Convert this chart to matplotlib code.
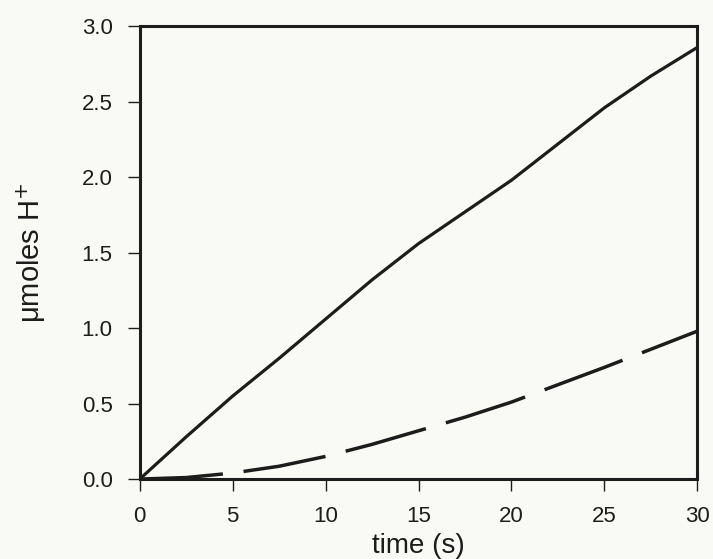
import matplotlib
matplotlib.use("Agg")
import matplotlib.pyplot as plt

time_s = [0, 2.5, 5, 7.5, 10, 12.5, 15, 17.5, 20, 22.5, 25, 27.5, 30]
solid_umol = [0, 0.28, 0.55, 0.80, 1.06, 1.32, 1.56, 1.77, 1.98, 2.22, 2.46, 2.67, 2.86]
dashed_umol = [0, 0.01, 0.04, 0.085, 0.15, 0.23, 0.32, 0.41, 0.51, 0.625, 0.74, 0.86, 0.98]

xticks = [0, 5, 10, 15, 20, 25, 30]
yticks = [0.0, 0.5, 1.0, 1.5, 2.0, 2.5, 3.0]

plt.rcParams['font.family'] = ['Liberation Sans', 'DejaVu Sans']
bg = '#f9f9f5'
ink = '#1c1c1c'

fig = plt.figure(figsize=(7.13, 5.59), dpi=100, facecolor=bg)
ax = fig.add_axes([0.196, 0.143, 0.782, 0.810], facecolor=bg)

ax.plot(time_s, solid_umol, color=ink, lw=2.3, solid_capstyle='butt')
ax.plot(time_s, dashed_umol, color=ink, lw=2.5, dashes=(24, 6), dash_capstyle='butt')

ax.set_xlim(0, 30)
ax.set_ylim(0, 3.0)
ax.set_xticks(xticks)
ax.set_xticklabels([str(v) for v in xticks])
ax.set_yticks(yticks)
ax.set_yticklabels([f"{v:.1f}" for v in yticks])

for s in ['top', 'right', 'bottom', 'left']:
    ax.spines[s].set_linewidth(2.2)
    ax.spines[s].set_color(ink)

ax.tick_params(axis='both', direction='out', length=8.5, width=1.0, color=ink,
               labelsize=16, labelcolor=ink)
ax.tick_params(axis='x', pad=11)
ax.tick_params(axis='y', pad=11)

ax.set_xlabel("time (s)", fontsize=20, color=ink, labelpad=4)
ax.set_ylabel("μmoles H$^{+}$", fontsize=21, color=ink, labelpad=24)

fig.savefig("out.png", dpi=100, facecolor=bg)
